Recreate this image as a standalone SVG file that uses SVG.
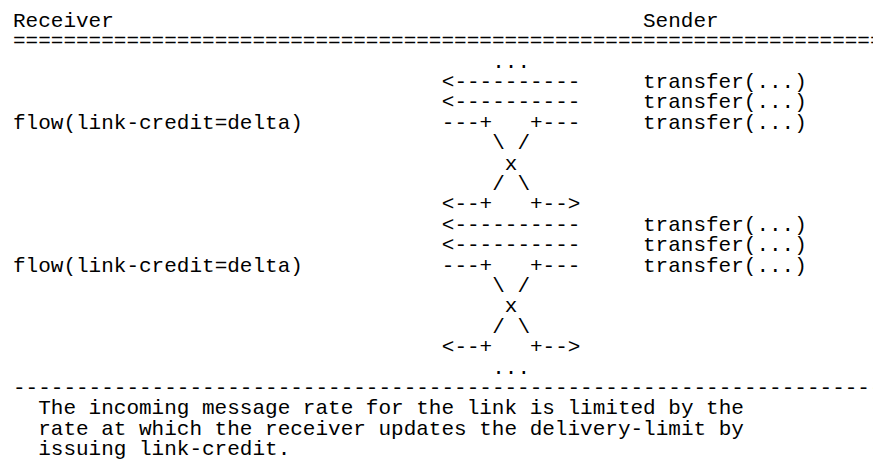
<svg xmlns="http://www.w3.org/2000/svg" width="873" height="461" viewBox="0 0 873 461" xml:space="preserve">
<style>
.t{font-family:"Liberation Mono","DejaVu Sans Mono",monospace;font-size:21px;fill:#000;white-space:pre;}
</style>
<rect x="0" y="0" width="873" height="461" fill="#fff"/>
<g id="header">
<text class="t" x="13" y="26.8">Receiver</text>
<text class="t" x="643" y="26.8">Sender</text>
<text class="t" x="13" y="47.2">======================================================================</text>
</g>
<g id="receiver-flow-1">
<text class="t" x="13" y="128.8">flow(link-credit=delta)</text>
</g>
<g id="sender-transfers-1">
<text class="t" x="643" y="88.0">transfer(...)</text>
<text class="t" x="643" y="108.4">transfer(...)</text>
<text class="t" x="643" y="128.8">transfer(...)</text>
</g>
<g id="receiver-flow-2">
<text class="t" x="13" y="271.6">flow(link-credit=delta)</text>
</g>
<g id="sender-transfers-2">
<text class="t" x="643" y="230.8">transfer(...)</text>
<text class="t" x="643" y="251.2">transfer(...)</text>
<text class="t" x="643" y="271.6">transfer(...)</text>
</g>
<g id="connectors">
<text class="t" x="441.8" y="67.6">    ...</text>
<text class="t" x="441.8" y="88.0">&lt;----------</text>
<text class="t" x="441.8" y="108.4">&lt;----------</text>
<text class="t" x="441.8" y="128.8">---+   +---</text>
<text class="t" x="441.8" y="149.2">    \ /</text>
<text class="t" x="441.8" y="169.6">     x</text>
<text class="t" x="441.8" y="190.0">    / \</text>
<text class="t" x="441.8" y="210.4">&lt;--+   +--&gt;</text>
<text class="t" x="441.8" y="230.8">&lt;----------</text>
<text class="t" x="441.8" y="251.2">&lt;----------</text>
<text class="t" x="441.8" y="271.6">---+   +---</text>
<text class="t" x="441.8" y="292.0">    \ /</text>
<text class="t" x="441.8" y="312.4">     x</text>
<text class="t" x="441.8" y="332.8">    / \</text>
<text class="t" x="441.8" y="353.2">&lt;--+   +--&gt;</text>
<text class="t" x="441.8" y="373.6">    ...</text>
</g>
<g id="footer">
<text class="t" x="13" y="394.0">----------------------------------------------------------------------</text>
<text class="t" x="38.2" y="414.4">The incoming message rate for the link is limited by the</text>
<text class="t" x="38.2" y="434.8">rate at which the receiver updates the delivery-limit by</text>
<text class="t" x="38.2" y="455.2">issuing link-credit.</text>
</g>
</svg>
